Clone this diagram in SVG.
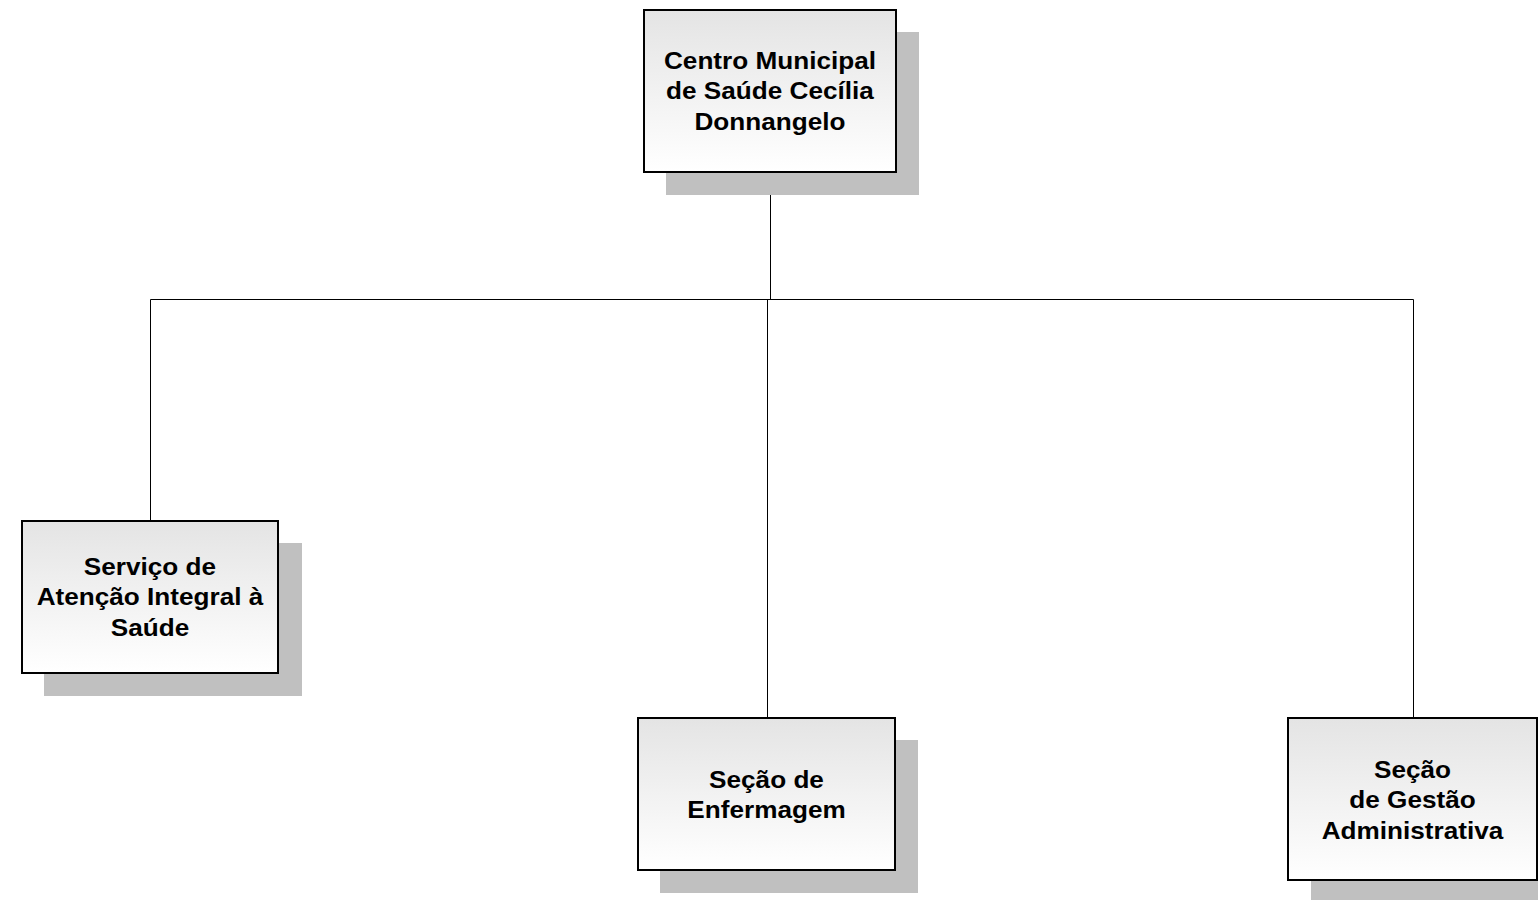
<svg xmlns="http://www.w3.org/2000/svg" width="1538" height="900" viewBox="0 0 1538 900">
<defs>
<linearGradient id="g" x1="0" y1="0" x2="0" y2="1">
<stop offset="0" stop-color="#e4e4e4"/>
<stop offset="1" stop-color="#ffffff"/>
</linearGradient>
</defs>
<style>
.sh{fill:#c0c0c0;stroke:none}
.bx{fill:url(#g);stroke:#000;stroke-width:2}
.t{font-family:"Liberation Sans",Arial,sans-serif;font-weight:bold;font-size:24px;fill:#000;text-anchor:middle}
.c{stroke:#000;stroke-width:1;fill:none}
</style>
<rect width="1538" height="900" fill="#fff"/>
<g id="connectors">
<line class="c" x1="770.5" y1="172" x2="770.5" y2="299.5"/>
<line class="c" x1="150.5" y1="299.5" x2="1413.5" y2="299.5"/>
<line class="c" x1="150.5" y1="299.5" x2="150.5" y2="521"/>
<line class="c" x1="767.5" y1="299.5" x2="767.5" y2="718"/>
<line class="c" x1="1413.5" y1="299.5" x2="1413.5" y2="718"/>
</g>
<g id="n1">
<rect class="sh" x="666" y="32" width="253" height="163"/>
<rect class="bx" x="644" y="10" width="252" height="162"/>
<text class="t" transform="translate(770,0) scale(1.09,1)"><tspan x="0" y="69">Centro Municipal</tspan><tspan x="0" y="99.5">de Saúde Cecília</tspan><tspan x="0" y="130">Donnangelo</tspan></text>
</g>
<g id="n2">
<rect class="sh" x="44" y="543" width="258" height="153"/>
<rect class="bx" x="22" y="521" width="256" height="152"/>
<text class="t" transform="translate(150,0) scale(1.09,1)"><tspan x="0" y="575">Serviço de</tspan><tspan x="0" y="605.5">Atenção Integral à</tspan><tspan x="0" y="636">Saúde</tspan></text>
</g>
<g id="n3">
<rect class="sh" x="660" y="740" width="258" height="153"/>
<rect class="bx" x="638" y="718" width="257" height="152"/>
<text class="t" transform="translate(766.5,0) scale(1.09,1)"><tspan x="0" y="788">Seção de</tspan><tspan x="0" y="818.5">Enfermagem</tspan></text>
</g>
<g id="n4">
<rect class="sh" x="1311" y="740" width="250" height="163"/>
<rect class="bx" x="1288" y="718" width="249" height="162"/>
<text class="t" transform="translate(1412.5,0) scale(1.09,1)"><tspan x="0" y="778">Seção</tspan><tspan x="0" y="808.5">de Gestão</tspan><tspan x="0" y="839">Administrativa</tspan></text>
</g>
</svg>
